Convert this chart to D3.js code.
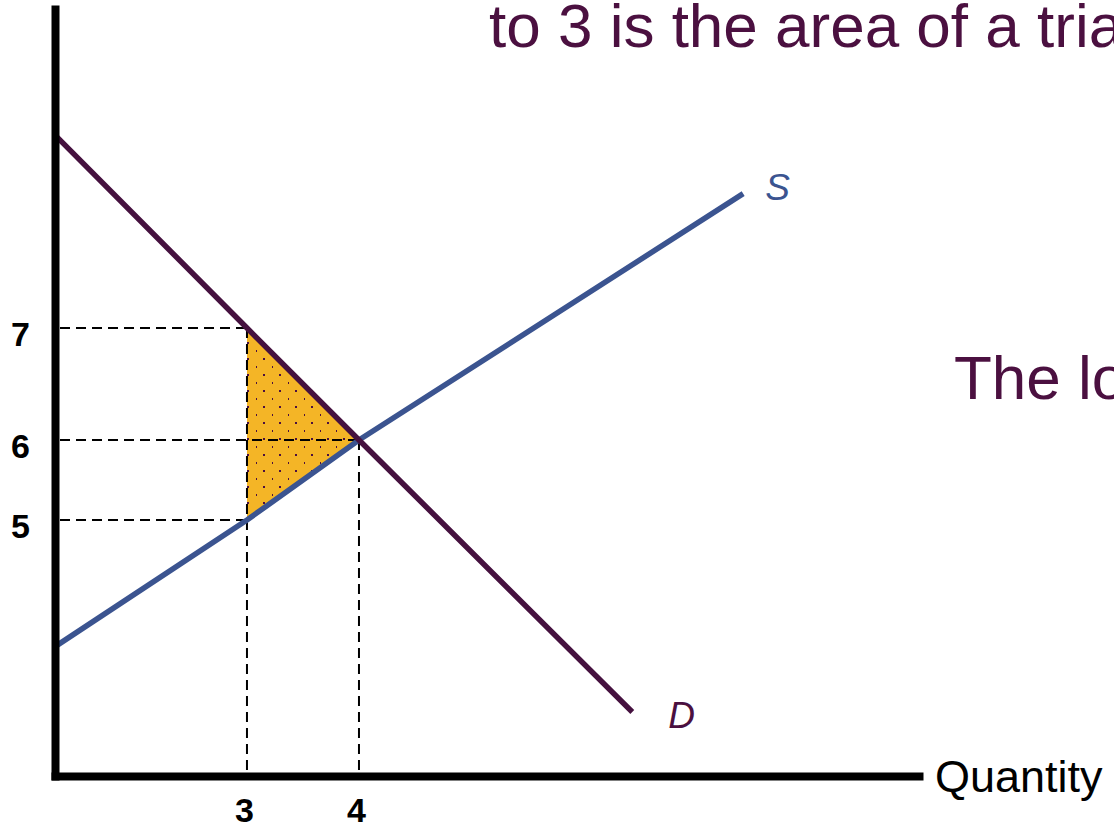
<!DOCTYPE html>
<html>
<head>
<meta charset="utf-8">
<script src="https://cdn.jsdelivr.net/npm/d3@7"></script>
<style>
  body { margin: 0; background: #fff; }
  svg { display: block; overflow: hidden; }
  text { font-family: "Liberation Sans", Arial, sans-serif; }
</style>
</head>
<body>
<svg class="chart"></svg>
<script>
// price / quantity ticks shown on the axes
var priceTicks = [5, 6, 7];
var quantityTicks = [3, 4];

// demand and supply curves, as (quantity, price) points
var demand = [[1.3, 8.71], [3, 7], [4, 6], [6.44, 2.6]];
var supply = [[1.3, 3.43], [3, 5], [4, 6], [7.43, 8.2]];

// shaded deadweight-loss triangle
var lossArea = [[3, 7], [4, 6], [3, 5]];

// dashed guide lines: [quantity, price]
var guides = [[3, 7], [4, 6], [3, 5]];

// axis extents
var qExtent = [1.286, 9];
var pExtent = [1.8, 5, 6, 7, 9.85];

function show() {
    'use strict';

    var width = 1114, height = 826;
    var purple = "#45113f", blue = "#3b5490", textPurple = "#4b1040";

    var svg = d3.select(".chart")
        .attr("width", width)
        .attr("height", height);

    // stylized diagram: spacing between price levels is not uniform
    var x = d3.scaleLinear().domain(qExtent).range([55, 919]);
    var y = d3.scaleLinear().domain(pExtent).range([776, 520, 440, 328, 9]);

    // dot pattern for the shaded area
    var defs = svg.append("defs");
    var pat = defs.append("pattern")
        .attr("id", "dots")
        .attr("patternUnits", "userSpaceOnUse")
        .attr("width", 16).attr("height", 16);
    pat.append("rect").attr("width", 16).attr("height", 16).attr("fill", "#f4b526");
    [[0, 15], [8, 7]].forEach(function(p) {
        pat.append("rect").attr("x", p[0] - 1).attr("y", p[1] - 1)
            .attr("width", 2).attr("height", 2).attr("fill", textPurple);
    });

    var line = d3.line()
        .x(function(d) { return x(d[0]); })
        .y(function(d) { return y(d[1]); });

    svg.append("path")
        .datum(lossArea)
        .attr("d", function(d) { return line(d) + "Z"; })
        .attr("fill", "url(#dots)");

    // dashed guides
    var g = svg.append("g")
        .attr("stroke", "#000")
        .attr("stroke-width", 2)
        .attr("stroke-dasharray", "10,6")
        .attr("fill", "none");
    g.selectAll("line.h").data(guides).enter().append("line")
        .attr("x1", x(qExtent[0]) + 5)
        .attr("x2", function(d) { return x(d[0]); })
        .attr("y1", function(d) { return y(d[1]); })
        .attr("y2", function(d) { return y(d[1]); });
    g.selectAll("line.v").data(guides.slice(0, 2)).enter().append("line")
        .attr("x1", function(d) { return x(d[0]); })
        .attr("x2", function(d) { return x(d[0]); })
        .attr("y1", function(d) { return y(d[1]); })
        .attr("y2", y(pExtent[0]));

    // curves
    svg.append("path").datum(supply)
        .attr("d", line).attr("fill", "none")
        .attr("stroke", blue).attr("stroke-width", 5.5);
    svg.append("path").datum(demand)
        .attr("d", line).attr("fill", "none")
        .attr("stroke", purple).attr("stroke-width", 5.5);

    // axes
    var leftAxis = d3.axisLeft(y).tickValues(priceTicks).tickSize(0).tickPadding(25);
    var leftG = svg.append("g")
        .attr("transform", "translate(" + x(qExtent[0]) + ",0)")
        .call(leftAxis);

    var bottomAxis = d3.axisBottom(x).tickValues(quantityTicks).tickSize(0);
    var bottomG = svg.append("g")
        .attr("transform", "translate(0," + y(pExtent[0]) + ")")
        .call(bottomAxis);

    [leftG, bottomG].forEach(function(a) {
        a.select(".domain").attr("stroke", "#000").attr("stroke-width", 8)
            .attr("stroke-linecap", "square");
        a.selectAll(".tick text")
            .attr("fill", "#000")
            .style("font-family", "'Liberation Sans', Arial, sans-serif")
            .style("font-size", "34px")
            .style("font-weight", "bold");
    });
    leftG.selectAll(".tick text").attr("dy", 17);
    bottomG.selectAll(".tick text").attr("y", 46).attr("dy", 0).attr("dx", -3);

    // curve labels
    svg.append("text").attr("x", x(7.43) + 22).attr("y", y(8.2) + 6)
        .attr("fill", blue).style("font-size", "37px").style("font-style", "italic")
        .text("S");
    svg.append("text").attr("x", x(6.44) + 36).attr("y", y(2.6) + 16)
        .attr("fill", textPurple).style("font-size", "37px").style("font-style", "italic")
        .text("D");

    svg.append("text").attr("x", 935).attr("y", 792)
        .attr("fill", "#000").style("font-size", "45px")
        .text("Quantity");

    // slide text, cut off at the right edge
    svg.append("text").attr("x", 489).attr("y", 47)
        .attr("fill", textPurple).style("font-size", "62px")
        .text("to 3 is the area of a tria");
    svg.append("text").attr("x", 954).attr("y", 399)
        .attr("fill", textPurple).style("font-size", "62px")
        .text("The lo");
}

show();
</script>
</body>
</html>
